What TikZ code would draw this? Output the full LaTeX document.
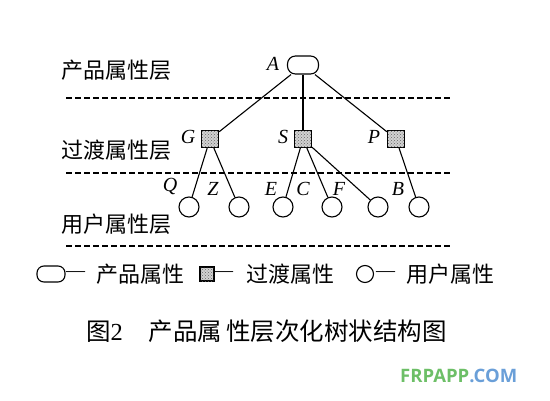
\documentclass[tikz,border=0pt]{standalone}
\usepackage{fontspec}
\setmainfont{Liberation Serif}
\newfontfamily\cjk{Noto Sans CJK SC}
\newfontfamily\wmfont{Open Sans}
\usetikzlibrary{patterns}

\newcommand{\keydash}{\raisebox{5.5pt}{\rmfamily\fontsize{19}{19}\selectfont —}}

\begin{document}
\begin{tikzpicture}[x=1pt,y=-1pt,
        oval/.style={draw, line width=1.1pt, rounded corners=8pt, minimum width=31pt, minimum height=18pt, inner sep=0pt},
        hatchbox/.style={draw, line width=1.1pt, fill=gray!35, postaction={pattern=crosshatch dots, pattern color=gray!80!black}, minimum size=17pt, inner sep=0pt},
        leaf/.style={draw, line width=1.1pt, circle, minimum size=20pt, inner sep=0pt},
        tag/.style={font=\fontsize{20}{20}\selectfont\itshape, inner sep=0pt},
        layer/.style={font=\fontsize{22}{22}\selectfont\cjk, anchor=west, inner sep=0pt},
        sep/.style={line width=1.1pt, dash pattern=on 5.5pt off 3.5pt}]
        \useasboundingbox (0,0) rectangle (550,400);
        % layers
        \node [layer] (layer-prod) at (61,70) {产品属性层};
        \node [layer] (layer-trans) at (61,150) {过渡属性层};
        \node [layer] (layer-user) at (61,224) {用户属性层};
        \coordinate (sep1-l) at (66,98);
        \coordinate (sep1-r) at (452,98);
        \coordinate (sep2-l) at (66,173);
        \coordinate (sep2-r) at (452,173);
        \coordinate (sep3-l) at (66,246);
        \coordinate (sep3-r) at (452,246);
        \draw [sep] (sep1-l) -- (sep1-r);
        \draw [sep] (sep2-l) -- (sep2-r);
        \draw [sep] (sep3-l) -- (sep3-r);
        % tree
        \node [oval] (A) at (303,65) {};
        \node [hatchbox] (G) at (210,139) {};
        \node [hatchbox] (S) at (303,139) {};
        \node [hatchbox] (P) at (396,139) {};
        \node [leaf] (Q) at (189,207) {};
        \node [leaf] (Z) at (239,207) {};
        \node [leaf] (E) at (283,207) {};
        \node [leaf] (C) at (332,207) {};
        \node [leaf] (F) at (378,207) {};
        \node [leaf] (B) at (419,207) {};
        \node [tag] (A-tag) at (273,64) {A};
        \node [tag] (G-tag) at (188,137) {G};
        \node [tag] (S-tag) at (283,137) {S};
        \node [tag] (P-tag) at (374,137) {P};
        \node [tag] (Q-tag) at (170,186) {Q};
        \node [tag] (Z-tag) at (213,189) {Z};
        \node [tag] (E-tag) at (271,189) {E};
        \node [tag] (C-tag) at (303,189) {C};
        \node [tag] (F-tag) at (339,189) {F};
        \node [tag] (B-tag) at (398,189) {B};
        \draw [black, line width=1.1pt] (A) -- (G);
        \draw [black, line width=1.1pt] (A) -- (S);
        \draw [black, line width=1.1pt] (A) -- (P);
        \draw [black, line width=1.1pt] (G) -- (Q);
        \draw [black, line width=1.1pt] (G) -- (Z);
        \draw [black, line width=1.1pt] (S) -- (E);
        \draw [black, line width=1.1pt] (S) -- (C);
        \draw [black, line width=1.1pt] (S) -- (F);
        \draw [black, line width=1.1pt] (P) -- (B);
        % legend
        \node [oval, minimum width=28pt, minimum height=16pt, rounded corners=7pt] (key-prod) at (51,274) {};
        \node [layer] (key-prod-txt) at (66,274) {\keydash\hspace{11pt}产品属性};
        \node [hatchbox, minimum size=14pt] (key-trans) at (207,274) {};
        \node [layer] (key-trans-txt) at (214,274) {\keydash\hspace{13pt}过渡属性};
        \node [leaf, minimum size=17pt] (key-user) at (365,274) {};
        \node [layer] (key-user-txt) at (376,274) {\keydash\hspace{11pt}用户属性};
        % caption
        \node [layer, font=\fontsize{24.5}{24.5}\selectfont\cjk] (caption) at (86,331) {图{\rmfamily 2}\hspace{26pt}产品属\hspace{4pt}性层次化树状结构图};
        \node [anchor=west, inner sep=0pt, font=\fontsize{18.5}{18.5}\selectfont\wmfont\bfseries] (mark) at (400,376) {\textcolor[HTML]{6DBF67}{FRPAPP}\textcolor[HTML]{6A9FD8}{.COM}};
    \end{tikzpicture}
\end{document}
